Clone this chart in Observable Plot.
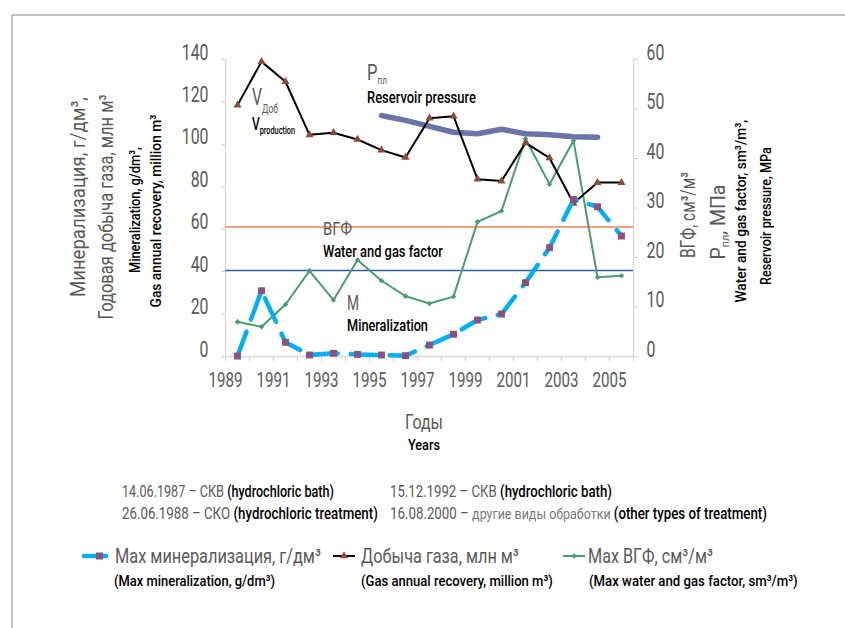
<!DOCTYPE html>
<html><head><meta charset="utf-8">
<script src="https://cdn.jsdelivr.net/npm/d3@7"></script>
<script src="https://cdn.jsdelivr.net/npm/@observablehq/plot@0.6"></script>
<style>html,body{margin:0;padding:0;background:#fff;overflow:hidden}svg{display:block}</style>
</head><body><div id="chart"></div>
<script>
// ---- data ----
const years = [1989,1990,1991,1992,1993,1994,1995,1996,1997,1998,1999,2000,2001,2002,2003,2004,2005];
const gasRecovery = [118.5,139,129.5,104.5,105.5,102.3,97.3,93.8,112.3,113.3,83.6,82.7,100.7,93.6,72.2,82,82];
const mineralization = [0.2,31,6.7,0.7,1.5,1,0.7,0.4,5.4,10.5,17.2,20,34.8,51.3,74,70.6,56.8];
const waterGasFactor = [7.0,6.0,10.5,17.3,11.4,19.5,15.3,12.2,10.7,12.1,27.2,29.4,44.0,34.8,43.6,16.0,16.3];
const pressureYears = [1995,1996,1997,1998,1999,2000,2001,2002,2003,2004];
const reservoirPressure = [48.7,47.7,46.5,45.3,45.0,45.9,45.0,44.8,44.4,44.3];
const orangeLevel = 61;   // left-axis units
const blueLevel = 40.5;   // left-axis units
const leftTicks = [0,20,40,60,80,100,120,140];
const rightTicks = [0,10,20,30,40,50,60];
const xTickLabels = [1989,1991,1993,1995,1997,1999,2001,2003,2005];

const K = 140/60; // right axis -> left axis units
const FONT = "Roboto, 'Noto Sans', sans-serif";
const GREY = "#595959";

const rows = years.map((yr,i)=>({year:yr, gas:gasRecovery[i], min:mineralization[i], wgf:waterGasFactor[i]*K}));
const pres = pressureYears.map((yr,i)=>({year:yr, p:reservoirPressure[i]*K}));
const boundaries = d3.range(0, years.length+1).map(i => years[0]-0.5+i);

const chart = Plot.plot({
  width: 845, height: 628,
  marginLeft: 225, marginRight: 212, marginTop: 59, marginBottom: 272,
  style: {fontFamily: FONT, background: "#fff"},
  x: {domain: [years[0]-0.5, years[years.length-1]+0.5]},
  y: {domain: [0, 140]},
  marks: [
    Plot.ruleX([boundaries[0], boundaries[boundaries.length-1]], {stroke:"#d9d9d9", strokeWidth:1.3}),
    Plot.ruleY([0], {stroke:"#d9d9d9", strokeWidth:1.6}),
    Plot.axisX(boundaries, {tickSize:5, tickFormat:()=>"", stroke:"#d0d0d0", label:null}),
    Plot.axisX(xTickLabels.map(v=>v-0.5), {tickSize:0, tickPadding:30, tickFormat:d=>String(Math.round(d+0.5)), fontSize:21, fill:GREY, label:null}),
    Plot.axisY(leftTicks, {anchor:"left", tickSize:4, tickPadding:13, fontSize:22, fill:GREY, stroke:"#d0d0d0", label:null}),
    Plot.axisY(rightTicks.map(v=>v*K), {anchor:"right", tickSize:4, tickPadding:9, tickFormat:d=>String(Math.round(d/K)), fontSize:22, fill:GREY, stroke:"#d0d0d0", label:null}),
    Plot.line(pres, {x:"year", y:"p", stroke:"#6b74a8", strokeWidth:5.5, strokeLinecap:"round", strokeLinejoin:"round"}),
    Plot.ruleY([orangeLevel], {stroke:"#f08050", strokeWidth:1.5}),
    Plot.ruleY([blueLevel], {stroke:"#2f5ea8", strokeWidth:1.5}),
    Plot.line(rows, {x:"year", y:"wgf", stroke:"#4a9d6f", strokeWidth:2}),
    Plot.dot(rows, {x:"year", y:"wgf", symbol:"diamond2", r:2.5, fill:"#4a9d6f", stroke:"none"}),
    Plot.line(rows, {x:"year", y:"gas", stroke:"#000", strokeWidth:2}),
    Plot.dot(rows, {x:"year", y:"gas", symbol:"triangle", r:3, fill:"#8c4a36", stroke:"none"}),
    Plot.line(rows, {x:"year", y:"min", stroke:"#00b0f0", strokeWidth:4.5, strokeDasharray:"26,13", strokeLinecap:"round"}),
    Plot.dot(rows, {x:"year", y:"min", symbol:"square", r:3.9, fill:"#8b5180", stroke:"none"})
  ]
});
document.getElementById("chart").appendChild(chart);

// condense tick labels (narrow font look)
chart.querySelectorAll('g[aria-label$="tick label"] text').forEach(t => {
  const x = +t.getAttribute("x") || 0, y = +t.getAttribute("y") || 0;
  t.removeAttribute("x"); t.removeAttribute("y");
  const tr = t.getAttribute("transform") || "";
  t.setAttribute("transform", `${tr} translate(${x},${y}) scale(0.72,1)`);
});

const svg = d3.select(chart);
const g = svg.append("g").attr("text-anchor", "start");

// condensed multi-part text: each part is its own <text>, laid end to end, group squeezed to target length
function txt({x, y, rot=0, anchor="start", len, parts}) {
  const grp = g.append("g");
  const els = parts.map(p => grp.append("text")
    .attr("text-anchor", "start")
    .attr("font-family", FONT).attr("fill", p[1]).attr("font-size", p[2])
    .attr("font-weight", p[3] || 400).attr("y", p[4] || 0).text(p[0]));
  let cum = 0;
  els.forEach(e => { e.attr("x", cum); cum += e.node().getComputedTextLength(); });
  const s = len ? len / cum : 1;
  const shift = anchor === "middle" ? -cum/2 : anchor === "end" ? -cum : 0;
  grp.attr("transform", `translate(${x},${y}) rotate(${rot}) scale(${s},1) translate(${shift},0)`);
}

// border
g.append("path").attr("d", "M12,628V15H845").attr("fill","none").attr("stroke","#808080").attr("stroke-width",1);

// left axis titles
txt({x:85, y:197, rot:-90, anchor:"middle", len:200, parts:[["Минерализация, г/дм³,", GREY, 20]]});
txt({x:113, y:207, rot:-90, anchor:"middle", len:225, parts:[["Годовая добыча газа, млн м³", GREY, 20]]});
txt({x:140, y:210, rot:-90, anchor:"middle", len:126, parts:[["Mineralization, g/dm³,", "#000", 15, 500]]});
txt({x:161, y:211, rot:-90, anchor:"middle", len:193, parts:[["Gas annual recovery, million m³", "#000", 15, 500]]});
// right axis titles
txt({x:695, y:215, rot:-90, anchor:"middle", len:86, parts:[["ВГФ, см³/м³", GREY, 20]]});
txt({x:725, y:222, rot:-90, anchor:"middle", len:75, parts:[["Р", GREY, 20], ["пл", GREY, 11, 400, 4], [", МПа", GREY, 20]]});
txt({x:746, y:211, rot:-90, anchor:"middle", len:183, parts:[["Water and gas factor, sm³/m³,", "#000", 15, 500]]});
txt({x:771, y:216, rot:-90, anchor:"middle", len:138, parts:[["Reservoir pressure, MPa", "#000", 15, 500]]});

// in-plot annotations
txt({x:252, y:105, len:26, parts:[["V", GREY, 24], ["Доб", GREY, 13, 400, 8]]});
txt({x:252, y:130, len:43, parts:[["V", "#000", 18, 500], ["production", "#000", 11, 500, 4]]});
txt({x:367, y:80, len:20, parts:[["Р", GREY, 22], ["пл", GREY, 11, 400, 4]]});
txt({x:367, y:103, len:109, parts:[["Reservoir pressure", "#000", 16, 500]]});
txt({x:323, y:235, len:29, parts:[["ВГФ", GREY, 19]]});
txt({x:323, y:257, len:120, parts:[["Water and gas factor", "#000", 16, 500]]});
txt({x:347, y:310, len:12, parts:[["М", GREY, 21]]});
txt({x:347, y:331, len:81, parts:[["Mineralization", "#000", 16, 500]]});

// x title
txt({x:424, y:429, anchor:"middle", len:38, parts:[["Годы", GREY, 20]]});
txt({x:424, y:450, anchor:"middle", len:32, parts:[["Years", "#000", 15, 500]]});

// notes
txt({x:122, y:497, len:212, parts:[["14.06.1987 – СКВ ", GREY, 16], ["(hydrochloric bath)", "#000", 16, 500]]});
txt({x:390, y:497, len:222, parts:[["15.12.1992 – СКВ ", GREY, 16], ["(hydrochloric bath)", "#000", 16, 500]]});
txt({x:122, y:519, len:256, parts:[["26.06.1988 – СКО ", GREY, 16], ["(hydrochloric treatment)", "#000", 16, 500]]});
txt({x:390, y:519, len:377, parts:[["16.08.2000 – ", GREY, 16], ["другие виды обработки ", "#777", 15], ["(other types of treatment)", "#000", 16, 500]]});

// legend
const ly = 556;
g.append("line").attr("x1",84).attr("x2",106).attr("y1",ly).attr("y2",ly).attr("stroke","#00b0f0").attr("stroke-width",4.5).attr("stroke-linecap","round");
g.append("rect").attr("x",96).attr("y",ly-3.5).attr("width",7).attr("height",7).attr("fill","#8b5180");
g.append("line").attr("x1",333).attr("x2",355).attr("y1",ly).attr("y2",ly).attr("stroke","#000").attr("stroke-width",2);
g.append("path").attr("d", d3.symbol(d3.symbolTriangle, 28)()).attr("transform",`translate(344,${ly})`).attr("fill","#8c4a36");
g.append("line").attr("x1",563).attr("x2",585).attr("y1",ly).attr("y2",ly).attr("stroke","#4a9d6f").attr("stroke-width",2);
g.append("path").attr("d", d3.symbol(d3.symbolDiamond2, 20)()).attr("transform",`translate(574,${ly})`).attr("fill","#4a9d6f");

txt({x:115, y:563, len:206, parts:[["Max минерализация, г/дм³", GREY, 20]]});
txt({x:361, y:563, len:158, parts:[["Добыча газа, млн м³", GREY, 20]]});
txt({x:588, y:563, len:125, parts:[["Max ВГФ, см³/м³", GREY, 20]]});
txt({x:114, y:586, len:161, parts:[["(Max mineralization, g/dm³)", "#000", 15, 500]]});
txt({x:361, y:586, len:192, parts:[["(Gas annual recovery, million m³)", "#000", 15, 500]]});
txt({x:589, y:586, len:209, parts:[["(Max water and gas factor, sm³/m³)", "#000", 15, 500]]});
</script>
</body></html>
